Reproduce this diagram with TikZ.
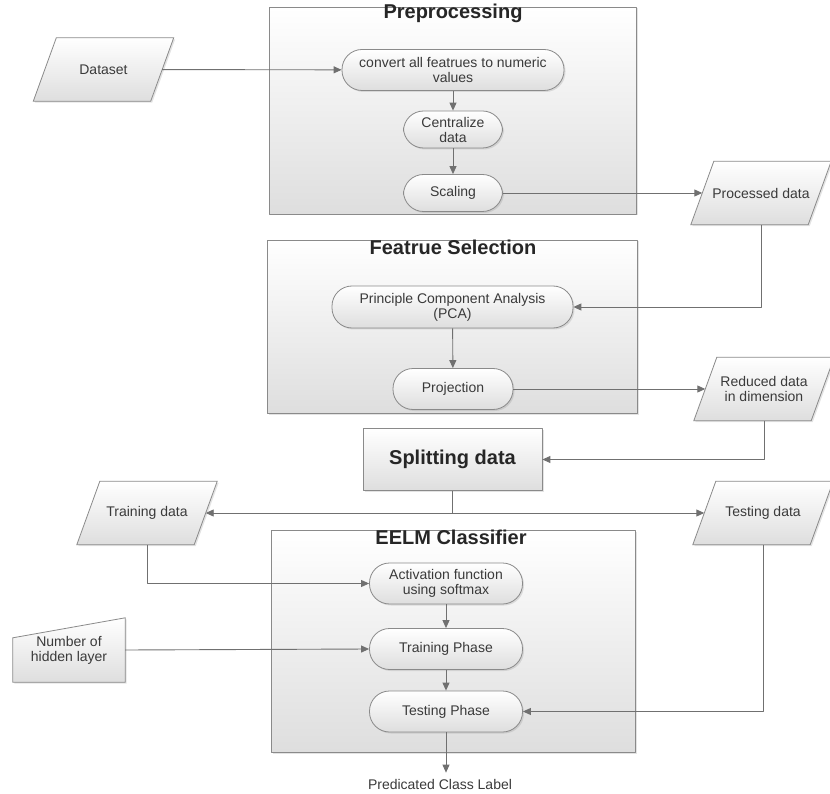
\documentclass[tikz,border=0pt]{standalone}
\usepackage{fontspec}
\setmainfont{Liberation Sans}
\usetikzlibrary{calc,arrows.meta,shadows}
\pgfdeclarelayer{back}
\pgfsetlayers{back,main}
\definecolor{linegray}{HTML}{707070}
\definecolor{boxgray}{HTML}{8A8A8A}
\definecolor{txtgray}{HTML}{3A3A3A}
\definecolor{shadegray}{HTML}{DEDEDE}
\begin{document}
\begin{tikzpicture}[x=1pt,y=-1pt,line join=round,
  every node/.style={text=txtgray,font=\fontsize{14}{15}\selectfont},
  shadowed/.style={drop shadow={shadow xshift=1.5pt,shadow yshift=-1.5pt,opacity=0.22}},
  groupbox/.style={draw=boxgray,line width=0.8pt,top color=white,bottom color=shadegray,shadowed},
  grouptitle/.style={anchor=base,font=\bfseries\fontsize{20}{21}\selectfont,text=black!85},
  stepbox/.style={draw=boxgray,line width=0.8pt,rounded corners=20pt,top color=white,bottom color=shadegray,
    shadowed,minimum height=41pt,align=center,inner sep=2pt},
  iodata/.style={minimum width=117pt,minimum height=63pt,align=center,inner sep=0pt},
  iofill/.style={draw=boxgray,line width=0.8pt,top color=white,bottom color=shadegray,shadowed},
  link/.style={draw=linegray,line width=0.9pt},
  flow/.style={link,-{Triangle[length=8pt,width=7pt]}},
  both/.style={link,{Triangle[length=8pt,width=7pt]}-{Triangle[length=8pt,width=7pt]}}]
  \useasboundingbox (0,0) rectangle (830,794);
  \node[groupbox,minimum width=367pt,minimum height=207pt] (pre) at (452.5,110.5) {};
  \node[grouptitle] (pretitle) at (453,19) {Preprocessing};
  \node[groupbox,minimum width=370pt,minimum height=173pt] (fsel) at (452,326.5) {};
  \node[grouptitle] (fseltitle) at (453,255) {Featrue Selection};
  \node[groupbox,minimum width=364pt,minimum height=222pt] (eelm) at (453,641) {};
  \node[grouptitle] (eelmtitle) at (451,544) {EELM Classifier};
  \node[iodata] (data) at (103.5,69.5) {Dataset};
  \node[stepbox,minimum width=222pt] (conv) at (453,70) {convert all featrues to numeric\\values};
  \node[stepbox,minimum width=99pt,minimum height=37pt] (cent) at (453,129.5) {Centralize\\data};
  \node[stepbox,minimum width=99pt,minimum height=37pt] (scal) at (453,193) {Scaling};
  \node[iodata] (proc) at (761,193) {Processed data};
  \node[stepbox,minimum width=241pt,minimum height=42pt] (pca) at (452.5,307) {Principle Component Analysis\\(PCA)};
  \node[stepbox,minimum width=120pt] (proj) at (453,389) {Projection};
  \node[iodata] (red) at (764,389) {Reduced data\\in dimension};
  \node[draw=boxgray,line width=0.8pt,top color=white,bottom color=shadegray,shadowed,
    minimum width=179pt,minimum height=62pt,font=\bfseries\fontsize{20}{21}\selectfont,text=black!85] (split) at (452.5,459.5) {Splitting data};
  \node[iodata] (train) at (147,513) {Training data};
  \node[iodata] (test) at (763,513) {Testing data};
  \node[stepbox,minimum width=153pt] (act) at (446,583.5) {Activation function\\using softmax};
  \node[stepbox,minimum width=153pt] (trn) at (446,649) {Training Phase};
  \node[stepbox,minimum width=153pt] (tst) at (446,711.5) {Testing Phase};
  \node[minimum width=112pt,minimum height=64pt,inner sep=0pt,align=center] (num) at (69,650) {Number of\\hidden layer};
  \node[inner sep=6pt] (out) at (440,784) {Predicated Class Label};
  \begin{pgfonlayer}{back}
    \foreach \n in {data,proc,red,train,test}
      \path[iofill] ($(\n.south west)+(-11.5,0)$) -- ($(\n.north west)+(11.5,0)$)
        -- ($(\n.north east)+(11.5,0)$) -- ($(\n.south east)+(-11.5,0)$) -- cycle;
    \path[iofill] ($(num.north west)+(0,20)$) -- (num.north east) -- (num.south east) -- (num.south west) -- cycle;
  \end{pgfonlayer}
  \draw[flow] (data) -- (conv);
  \draw[flow] (conv) -- (cent);
  \draw[flow] (cent) -- (scal);
  \draw[flow] (scal) -- (proc);
  \draw[flow] (proc.south) |- (pca.east);
  \draw[flow] (pca) -- (proj);
  \draw[flow] (proj) -- (red);
  \draw[flow] (red.south) |- (split.east);
  \draw[link] (split.south) -- (split.south |- train.east);
  \draw[both] (train) -- (test);
  \draw[flow] (train.south) |- (act.west);
  \draw[flow] (num.east) -- (trn.west);
  \draw[flow] (act) -- (trn);
  \draw[flow] (trn) -- (tst);
  \draw[flow] (test.south) |- (tst.east);
  \draw[flow] (tst.south) -- (tst.south |- out.north);
\end{tikzpicture}
\end{document}
